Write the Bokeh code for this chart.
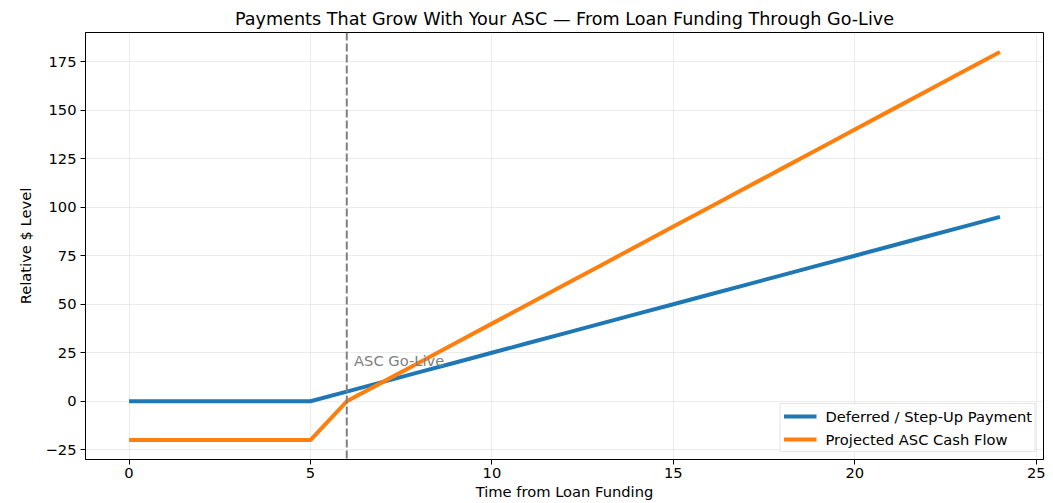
from bokeh.plotting import figure
from bokeh.models import Span, Label, Legend, LegendItem, Range1d, SingleIntervalTicker
from bokeh.embed import file_html
from bokeh.resources import INLINE

months = [0, 1, 2, 3, 4, 5, 6, 7, 8, 9, 10, 11, 12, 13, 14, 15, 16, 17, 18, 19, 20, 21, 22, 23, 24]
deferred_payment = [0, 0, 0, 0, 0, 0, 5, 10, 15, 20, 25, 30, 35, 40, 45, 50, 55, 60, 65, 70, 75, 80, 85, 90, 95]
asc_cash_flow = [-20, -20, -20, -20, -20, -20, 0, 10, 20, 30, 40, 50, 60, 70, 80, 90, 100, 110, 120, 130, 140, 150, 160, 170, 180]
go_live_month = 6
go_live_label = "ASC Go-Live"
series_names = ["Deferred / Step-Up Payment", "Projected ASC Cash Flow"]
title_text = "Payments That Grow With Your ASC \u2014 From Loan Funding Through Go-Live"
x_label = "Time from Loan Funding"
y_label = "Relative $ Level"

FONT = "DejaVu Sans"
FS = "14.7px"

p = figure(width=1053, height=503, output_backend="svg", toolbar_location=None,
           x_range=Range1d(-1.2, 25.2), y_range=Range1d(-30, 190),
           min_border_left=85, min_border_right=10, min_border_top=32, min_border_bottom=44)

p.title.text = title_text
p.title.align = "center"
p.title.text_font = FONT
p.title.text_font_size = "17.6px"
p.title.text_font_style = "normal"
p.title.text_color = "#000000"
p.title.standoff = 8

p.outline_line_color = "#000000"
p.outline_line_width = 1
p.background_fill_color = "#ffffff"
p.border_fill_color = "#ffffff"

for ax in (p.xaxis[0], p.yaxis[0]):
    ax.axis_line_color = "#000000"
    ax.major_tick_line_color = "#000000"
    ax.major_tick_out = 5
    ax.major_tick_in = 0
    ax.minor_tick_line_color = None
    ax.major_label_text_font = FONT
    ax.major_label_text_font_size = FS
    ax.major_label_text_color = "#000000"
    ax.axis_label_text_font = FONT
    ax.axis_label_text_font_size = FS
    ax.axis_label_text_font_style = "normal"
    ax.axis_label_text_color = "#000000"

p.xaxis[0].ticker = SingleIntervalTicker(interval=5)
p.yaxis[0].ticker = SingleIntervalTicker(interval=25)
p.xaxis[0].axis_label = x_label
p.yaxis[0].axis_label = y_label
p.xaxis[0].major_label_standoff = 3
p.yaxis[0].major_label_standoff = 4
p.xaxis[0].axis_label_standoff = 2
p.yaxis[0].axis_label_standoff = 9

for g in (p.xgrid[0], p.ygrid[0]):
    g.grid_line_color = "#b0b0b0"
    g.grid_line_alpha = 0.3
    g.grid_line_width = 0.8

r1 = p.line(months, deferred_payment, line_color="#1f77b4", line_width=4)
r2 = p.line(months, asc_cash_flow, line_color="#ff7f0e", line_width=4)

p.add_layout(Span(location=go_live_month, dimension="height", line_color="#808080",
                  line_width=2, line_dash="8 3"))
p.add_layout(Label(x=go_live_month + 0.2, y=21, text=go_live_label, text_color="#808080",
                   text_font=FONT, text_font_size=FS, text_baseline="alphabetic"))

legend = Legend(items=[LegendItem(label=series_names[0], renderers=[r1]),
                       LegendItem(label=series_names[1], renderers=[r2])],
                location="bottom_right")
legend.label_text_font = FONT
legend.label_text_font_size = FS
legend.label_text_color = "#000000"
legend.glyph_width = 33
legend.glyph_height = 18
legend.label_height = 18
legend.spacing = 5
legend.padding = 3
legend.margin = 7
legend.label_standoff = 9
legend.border_line_color = "#cccccc"
legend.border_line_width = 1
legend.background_fill_color = "#ffffff"
legend.background_fill_alpha = 0.8
p.add_layout(legend)

open("out.html", "w").write(file_html(p, INLINE))
